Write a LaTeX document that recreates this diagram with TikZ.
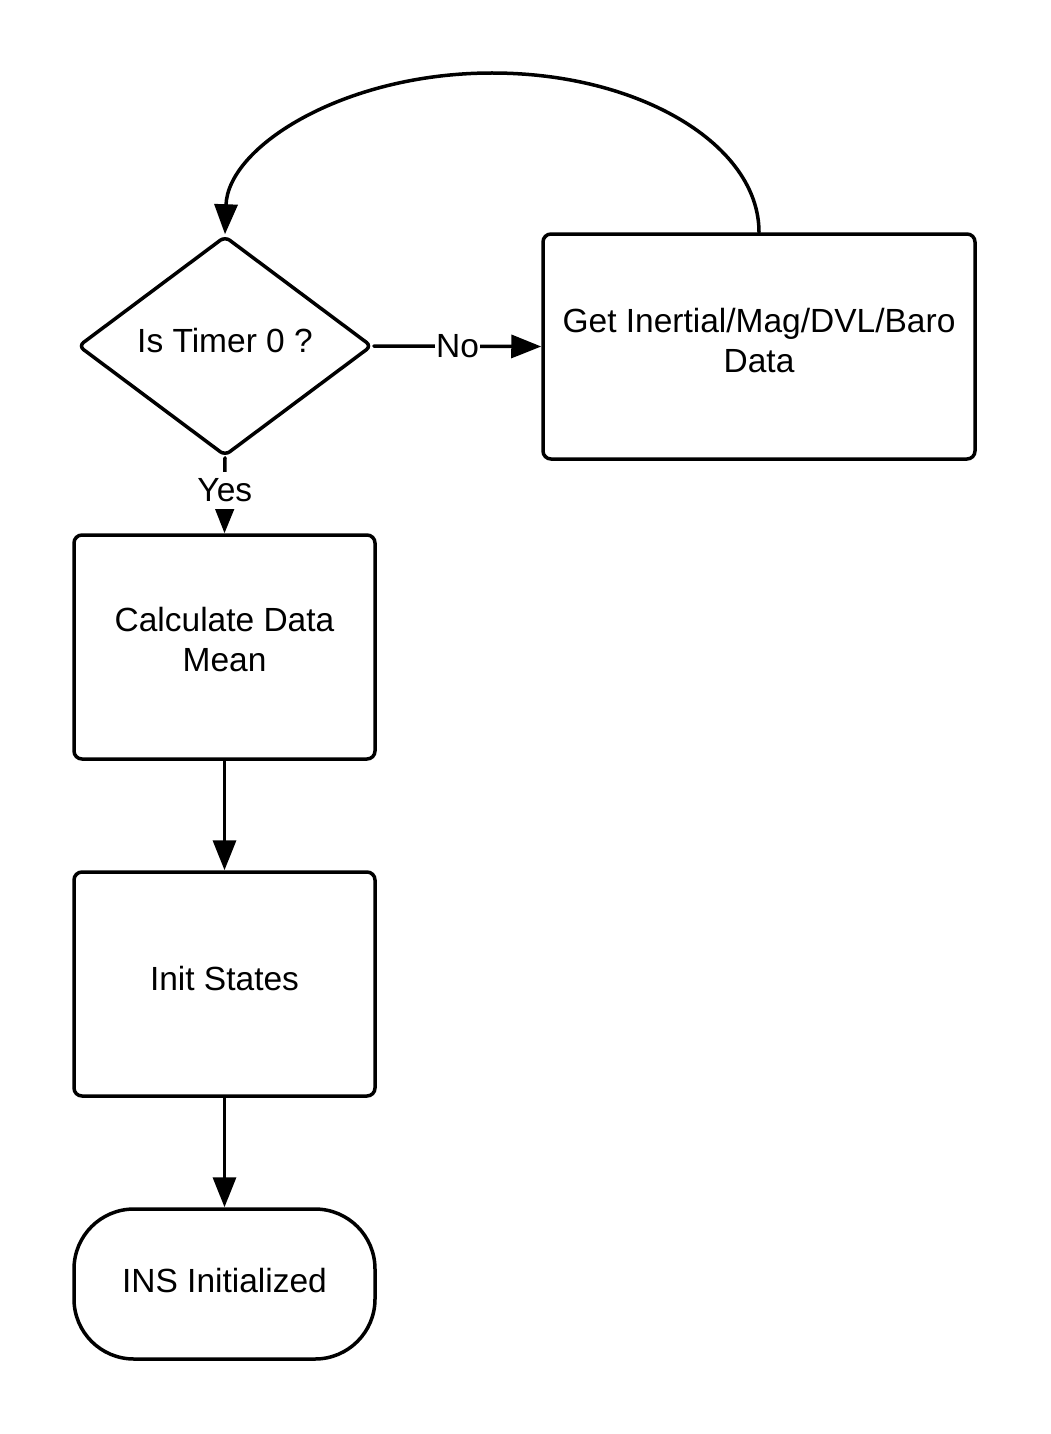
\documentclass[tikz,border=0pt]{standalone}
\usepackage{fontspec}
\setmainfont{Liberation Sans}
\usetikzlibrary{arrows.meta,shapes.geometric}
\begin{document}
\begin{tikzpicture}[x=1pt,y=-1pt,
  every node/.style={font=\fontsize{33.5}{40}\selectfont, align=center},
  ln/.style={line width=3.5pt, line cap=round, line join=round},
  arr/.style={ln, -{Triangle[length=30pt,width=23pt]}},
  procbox/.style={draw, line width=3.5pt, rectangle, rounded corners=8pt, minimum width=301pt, minimum height=224pt, inner sep=0pt},
  decbox/.style={draw, line width=3.5pt, diamond, rounded corners=6pt, minimum width=294pt, minimum height=220pt, inner sep=0pt},
  termbox/.style={draw, line width=3.5pt, rectangle, rounded corners=60pt, minimum width=301pt, minimum height=150pt, inner sep=0pt},
  txt/.style={inner sep=0pt},
  lbl/.style={fill=white, inner sep=1pt}]
\fill[white] (0,0) rectangle (1050,1434);
\useasboundingbox (0,0) rectangle (1050,1434);

\node[decbox] (dec) at (225,346) {};
\node[txt] (dec-t) at (225,341) {Is Timer 0 ?};
\node[procbox, minimum width=432pt, minimum height=225pt] (get) at (759,346.5) {};
\node[txt] (get-t) at (759,340.5) {Get Inertial/Mag/DVL/Baro\\Data};
\node[procbox] (calc) at (224.5,647) {};
\node[txt] (calc-t) at (224.5,640) {Calculate Data\\Mean};
\node[procbox] (init) at (224.5,984) {};
\node[txt] (init-t) at (224.5,979) {Init States};
\node[termbox] (done) at (224.5,1284) {};
\node[txt] (done-t) at (224.5,1281) {INS Initialized};

\draw[arr] (dec.east) -- node[lbl] {No} (get.west);
\draw[arr] (dec.south) -- node[lbl, pos=0.43, inner xsep=1pt, inner ysep=7pt] {Yes} (calc.north);
\draw[arr] (calc.south) -- (init.north);
\draw[arr] (init.south) -- (done.north);
\draw[arr] (get.north) .. controls (759,145) and (640,73) .. (492,73)
  .. controls (345,73) and (228,146) .. (dec.north);
\end{tikzpicture}
\end{document}
